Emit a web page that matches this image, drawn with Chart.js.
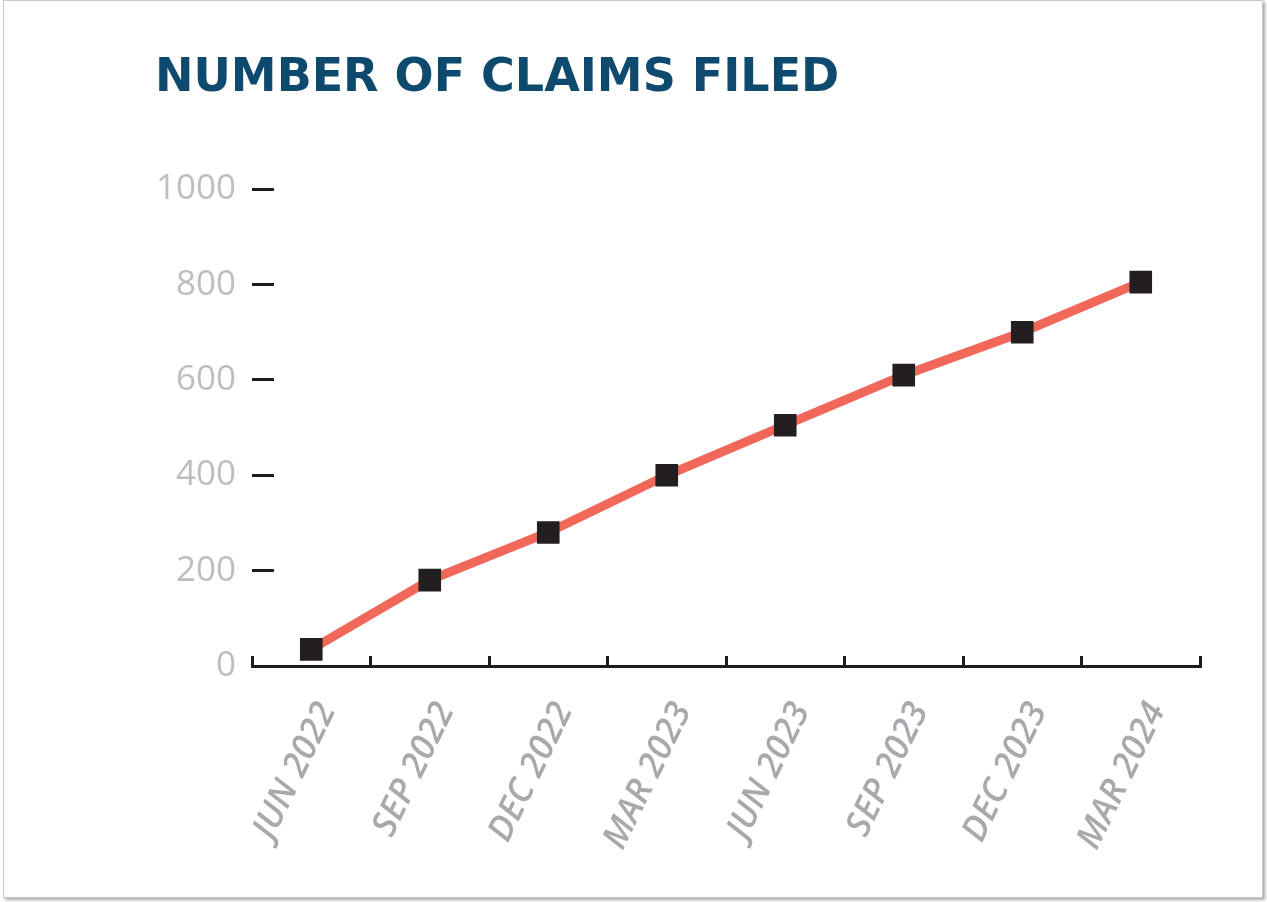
<!DOCTYPE html>
<html>
<head>
<meta charset="utf-8">
<script src="https://cdn.jsdelivr.net/npm/chart.js@4"></script>
<style>
  html, body { margin: 0; padding: 0; background: #fff; }
  #frame {
    position: absolute; left: 3px; top: 0px; width: 1258px; height: 896px;
    border: 1px solid #c9c9c9; box-shadow: 2px 2px 3px rgba(0,0,0,0.35); background: #fff;
  }
  #wrap { position: absolute; left: 0; top: 0; width: 1267px; height: 902px; }
</style>
</head>
<body>
<div id="frame"></div>
<div id="wrap"><canvas id="claimsChart" width="1267" height="902"></canvas></div>
<script>
// quarters along the x axis
const quarters = ["JUN 2022", "SEP 2022", "DEC 2022", "MAR 2023", "JUN 2023", "SEP 2023", "DEC 2023", "MAR 2024"];
// number of claims filed
const claims = [35, 180, 280, 400, 505, 610, 700, 805];
// y axis ticks
const yTicks = [0, 200, 400, 600, 800, 1000];

const ctx = document.getElementById('claimsChart').getContext('2d');

const myChart = new Chart(ctx, {
  type: 'line',
  data: {
    labels: quarters,
    datasets: [{
      label: 'Claims filed',
      data: claims,
      borderColor: '#f1675a',
      borderWidth: 9,
      tension: 0,
      pointStyle: 'rect',
      pointRadius: 16,
      pointBackgroundColor: '#231f20',
      pointBorderColor: '#231f20',
      pointBorderWidth: 0
    }]
  },
  options: {
    responsive: false,
    animation: false,
    layout: { padding: { left: 155, right: 67, top: 51, bottom: 0 } },
    plugins: {
      legend: { display: false },
      tooltip: { enabled: false },
      title: {
        display: true,
        text: 'NUMBER OF CLAIMS FILED',
        align: 'start',
        color: '#0e4a6e',
        font: { family: 'DejaVu Sans', size: 46, weight: 'bold' },
        padding: { top: 0, bottom: 83 }
      }
    },
    scales: {
      x: {
        offset: true,
        border: { display: true, color: '#1c1c1c', width: 3 },
        grid: { offset: true, drawOnChartArea: false, drawTicks: true, tickLength: -10, color: '#1c1c1c', lineWidth: 3 },
        ticks: {
          color: '#a7a9ac',
          font: { family: 'Open Sans', size: 35, style: 'italic', weight: '600' },
          minRotation: 64, maxRotation: 64,
          padding: 40,
          labelOffset: 16
        },
        afterFit: function (scale) { scale.height = 236; }
      },
      y: {
        min: 0, max: 1000,
        afterBuildTicks: function (scale) { scale.ticks = yTicks.map(v => ({ value: v })); },
        border: { display: false },
        grid: {
          drawOnChartArea: false, drawTicks: true, tickLength: -22, lineWidth: 3,
          color: c => c.tick && c.tick.value === 0 ? 'rgba(0,0,0,0)' : '#1c1c1c'
        },
        ticks: {
          color: '#bcbec0',
          font: { family: 'Open Sans', size: 35 },
          padding: 38,
          callback: v => String(v)
        },
        afterFit: function (scale) { scale.width = 97; }
      }
    }
  }
});
</script>
</body>
</html>
